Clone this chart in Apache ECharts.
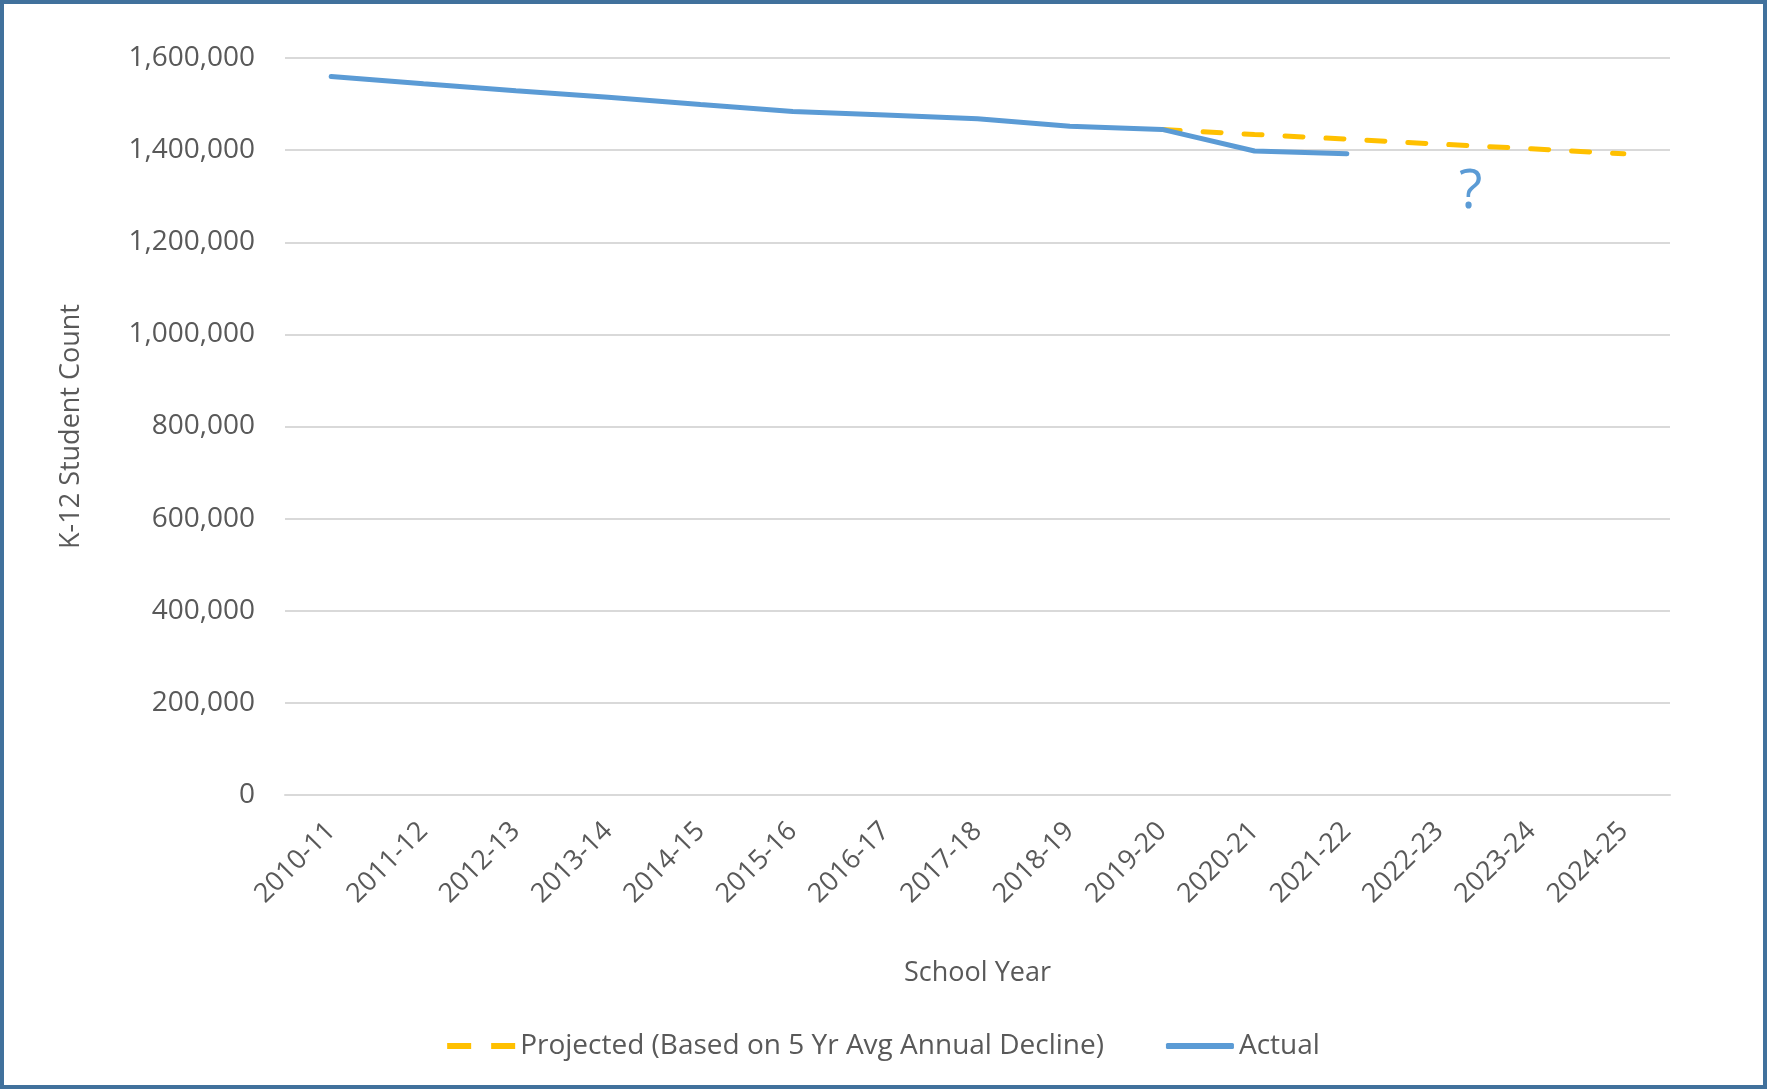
<!DOCTYPE html>
<html>
<head>
<meta charset="utf-8">
<script src="https://cdn.jsdelivr.net/npm/echarts@6/dist/echarts.min.js"></script>
<style>
  html, body { margin: 0; padding: 0; background: #fff; }
  #main { width: 1767px; height: 1089px; }
</style>
</head>
<body>
<div id="main"></div>
<script>
// school years on the x axis
var years = ['2010-11', '2011-12', '2012-13', '2013-14', '2014-15', '2015-16', '2016-17',
  '2017-18', '2018-19', '2019-20', '2020-21', '2021-22', '2022-23', '2023-24', '2024-25'];

// actual K-12 enrollment
var actual = [1560000, 1544000, 1529000, 1515000, 1499000, 1484000, 1476000,
  1468000, 1452000, 1445000, 1398000, 1392000, null, null, null];

// projection from 2019-20 on
var projected = [null, null, null, null, null, null, null, null, null,
  1445000, 1434000, 1424000, 1413000, 1403000, 1392000];

var yTicks = { min: 0, max: 1600000, interval: 200000 };

var textColor = '#595959';
var font = '"Open Sans", sans-serif';

var chart = echarts.init(document.getElementById('main'), null, { renderer: 'canvas' });

chart.setOption({
  backgroundColor: '#fff',
  animation: false,
  textStyle: { fontFamily: font },
  grid: { left: 285, right: 97, top: 58, bottom: 294, containLabel: false },
  legend: {
    bottom: 24,
    left: 'center',
    itemWidth: 68,
    itemHeight: 6,
    itemGap: 62,
    textStyle: { fontSize: 28, color: textColor, fontFamily: font },
    data: [
      { name: 'Projected (Based on 5 Yr Avg Annual Decline)', icon: 'path://M0,0h24v6h-24zM44,0h24v6h-24z' },
      { name: 'Actual', icon: 'roundRect' }
    ]
  },
  xAxis: {
    type: 'category',
    data: years,
    boundaryGap: true,
    name: 'School Year',
    nameLocation: 'middle',
    nameGap: 165,
    nameTextStyle: { fontSize: 27, color: textColor },
    axisLine: { lineStyle: { color: '#D9D9D9', width: 2 } },
    axisTick: { show: false },
    axisLabel: { rotate: 45, fontSize: 27, color: textColor, margin: 32 }
  },
  yAxis: {
    type: 'value',
    min: yTicks.min,
    max: yTicks.max,
    interval: yTicks.interval,
    name: 'K-12 Student Count',
    nameLocation: 'middle',
    nameGap: 200,
    nameTextStyle: { fontSize: 27, color: textColor },
    axisLine: { show: false },
    axisTick: { show: false },
    splitLine: { lineStyle: { color: '#D9D9D9', width: 2 } },
    axisLabel: {
      fontSize: 28,
      color: textColor,
      margin: 30,
      formatter: function (v) { return v.toLocaleString('en-US'); }
    }
  },
  series: [
    {
      name: 'Projected (Based on 5 Yr Avg Annual Decline)',
      type: 'line',
      data: projected,
      symbol: 'none',
      z: 2,
      color: '#FFC000',
      lineStyle: { color: '#FFC000', width: 5, type: [18, 23], cap: 'round' }
    },
    {
      name: 'Actual',
      type: 'line',
      data: actual,
      symbol: 'none',
      z: 3,
      color: '#5B9BD5',
      lineStyle: { color: '#5B9BD5', width: 5, cap: 'round' }
    }
  ],
  graphic: [
    {
      type: 'text',
      left: 1459,
      top: 166,
      style: { text: '?', fontSize: 54, fill: '#5B9BD5', fontFamily: font }
    },
    {
      type: 'rect',
      shape: { x: 2, y: 2, width: 1763, height: 1085 },
      style: { fill: 'none', stroke: '#41719C', lineWidth: 4 },
      silent: true
    }
  ]
});
</script>
</body>
</html>
